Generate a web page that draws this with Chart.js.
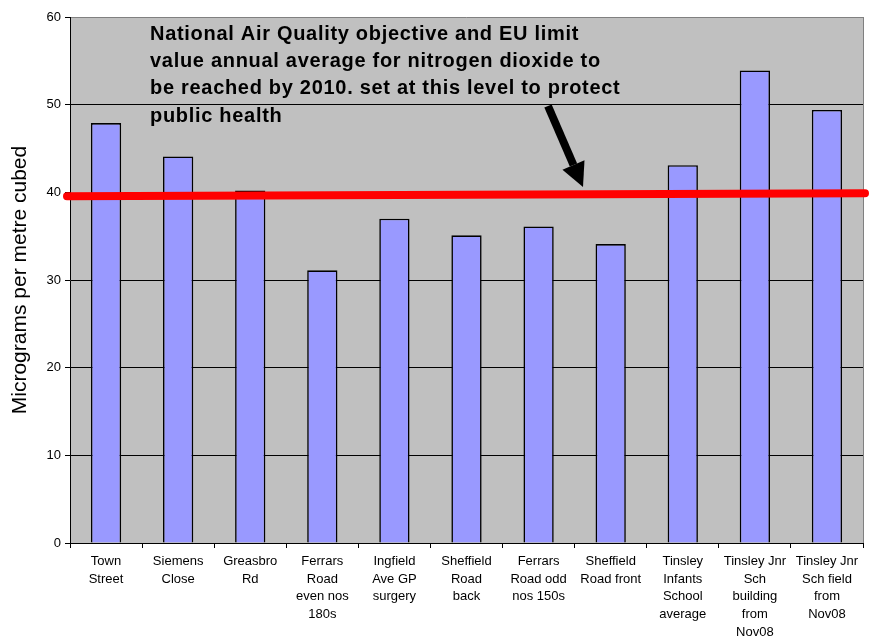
<!DOCTYPE html>
<html>
<head>
<meta charset="utf-8">
<script src="https://cdn.jsdelivr.net/npm/chart.js@4"></script>
<style>
  html, body { margin: 0; padding: 0; background: #fff; }
  #wrap { width: 871px; height: 637px; }
</style>
</head>
<body>
<div id="wrap"><canvas id="no2Chart" width="871" height="637"></canvas></div>
<script>
const sites = [
  ['Town', 'Street'],
  ['Siemens', 'Close'],
  ['Greasbro', 'Rd'],
  ['Ferrars', 'Road', 'even nos', '180s'],
  ['Ingfield', 'Ave GP', 'surgery'],
  ['Sheffield', 'Road', 'back'],
  ['Ferrars', 'Road odd', 'nos 150s'],
  ['Sheffield', 'Road front'],
  ['Tinsley', 'Infants', 'School', 'average'],
  ['Tinsley Jnr', 'Sch', 'building', 'from', 'Nov08'],
  ['Tinsley Jnr', 'Sch field', 'from', 'Nov08']
];
const no2Values = [47.9, 44.1, 40.2, 31.1, 37.0, 35.1, 36.1, 34.1, 43.1, 53.9, 49.4];
// drawn objective line, slightly sloped as in the original (left, right)
const limitLine = [39.55, 39.9];
const yTicks = [0, 10, 20, 30, 40, 50, 60];
const noteLines = [
  'National Air Quality objective and EU limit',
  'value annual average for nitrogen dioxide to',
  'be reached by 2010. set at this level to protect',
  'public health'
];

const FONT = "Arial, 'Liberation Sans', sans-serif";

const decor = {
  id: 'decor',
  beforeDraw(chart) {
    const { ctx, chartArea: a } = chart;
    ctx.save();
    ctx.fillStyle = '#c0c0c0';
    ctx.fillRect(a.left, a.top, a.right - a.left, a.bottom - a.top);
    ctx.strokeStyle = '#808080';
    ctx.lineWidth = 1;
    ctx.beginPath();
    ctx.moveTo(a.right + 0.5, a.top);
    ctx.lineTo(a.right + 0.5, a.bottom);
    ctx.moveTo(a.left, a.top + 0.5);
    ctx.lineTo(a.right, a.top + 0.5);
    ctx.stroke();
    ctx.restore();
  },
  afterDatasetsDraw(chart) {
    const { ctx, chartArea: a, scales } = chart;
    const y = scales.y;
    ctx.save();
    // red objective line
    ctx.strokeStyle = '#ff0000';
    ctx.lineWidth = 8;
    ctx.lineCap = 'round';
    ctx.beginPath();
    ctx.moveTo(a.left - 3, y.getPixelForValue(limitLine[0]));
    ctx.lineTo(a.right + 2, y.getPixelForValue(limitLine[1]));
    ctx.stroke();

    // annotation text
    ctx.fillStyle = '#000';
    ctx.font = 'bold 20px ' + FONT;
    ctx.letterSpacing = '0.7px';
    ctx.textBaseline = 'middle';
    noteLines.forEach((t, i) => ctx.fillText(t, a.left + 80, a.top + 17 + i * 27.4));

    // arrow
    const x0 = a.left + 478, y0 = a.top + 89;
    const x1 = a.left + 513, y1 = a.top + 170;
    const ang = Math.atan2(y1 - y0, x1 - x0);
    const headLen = 24, headW = 12;
    const bx = x1 - headLen * Math.cos(ang), by = y1 - headLen * Math.sin(ang);
    ctx.strokeStyle = '#000';
    ctx.lineWidth = 8;
    ctx.lineCap = 'butt';
    ctx.beginPath();
    ctx.moveTo(x0, y0);
    ctx.lineTo(bx, by);
    ctx.stroke();
    ctx.beginPath();
    ctx.moveTo(x1, y1);
    ctx.lineTo(bx + headW * Math.sin(ang), by - headW * Math.cos(ang));
    ctx.lineTo(bx - headW * Math.sin(ang), by + headW * Math.cos(ang));
    ctx.closePath();
    ctx.fill();
    ctx.restore();
  }
};

new Chart(document.getElementById('no2Chart'), {
  type: 'bar',
  data: {
    labels: sites,
    datasets: [{
      data: no2Values,
      backgroundColor: '#9999ff',
      borderColor: '#000',
      borderWidth: 1.6,
      categoryPercentage: 0.42,
      barPercentage: 1
    }]
  },
  options: {
    responsive: false,
    animation: false,
    layout: { padding: { top: 17, right: 8, left: 0, bottom: 0 } },
    plugins: {
      legend: { display: false },
      tooltip: { enabled: false }
    },
    scales: {
      x: {
        grid: {
          offset: true,
          drawOnChartArea: false,
          color: '#000',
          tickLength: 5
        },
        border: { color: '#000', width: 1 },
        ticks: {
          color: '#000',
          maxRotation: 0,
          autoSkip: false,
          padding: 5,
          font: { family: FONT, size: 13, lineHeight: 1.35 }
        },
        afterFit(s) { s.height = 94; }
      },
      y: {
        min: 0,
        max: 60,
        afterBuildTicks(s) { s.ticks = yTicks.map(v => ({ value: v })); },
        grid: {
          // 60 is the frame top; the 40 line sits under the red objective line
          color: c => (c.tick && (c.tick.value === 60 || c.tick.value === 40)) ? 'rgba(0,0,0,0)' : '#000',
          tickLength: 5,
          tickColor: '#000'
        },
        border: { color: '#000', width: 1 },
        ticks: {
          color: '#000',
          padding: 4,
          font: { family: FONT, size: 13 }
        },
        title: {
          display: true,
          text: 'Micrograms per metre cubed',
          color: '#000',
          padding: { top: 8, bottom: 4 },
          font: { family: FONT, size: 21 }
        },
        afterFit(s) { s.width = 70; }
      }
    }
  },
  plugins: [decor]
});
</script>
</body>
</html>
